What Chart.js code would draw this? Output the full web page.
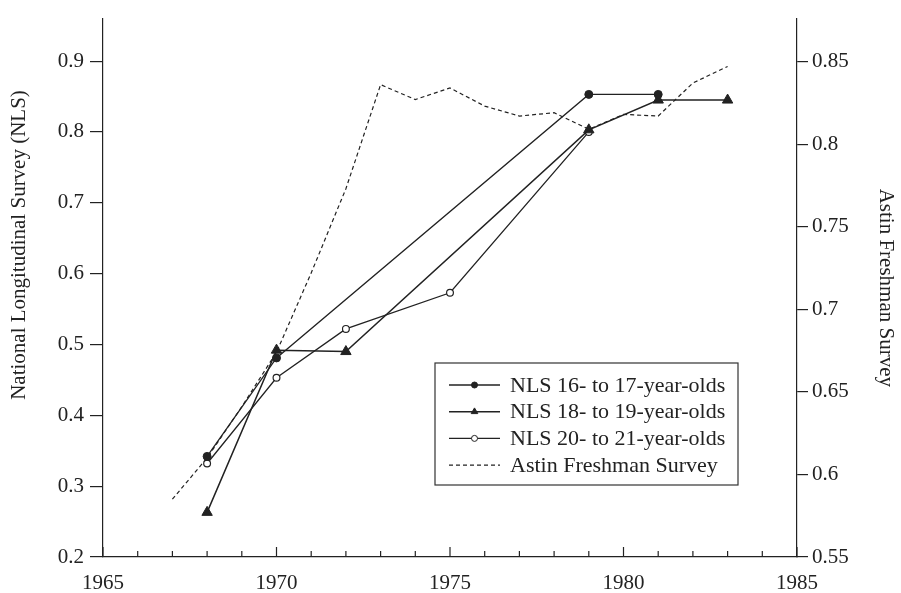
<!DOCTYPE html>
<html>
<head>
<meta charset="utf-8">
<script src="https://cdn.jsdelivr.net/npm/chart.js@4.4.1/dist/chart.umd.min.js"></script>
<style>
  html, body { margin: 0; padding: 0; background: #fff; }
  #wrap { width: 901px; height: 593px; }
</style>
</head>
<body>
<div id="wrap"><canvas id="chart" width="901" height="593"></canvas></div>
<script>
// NLS series (left axis)
const years16 = [1968, 1970, 1979, 1981]
const nls16 = [0.342, 0.481, 0.853, 0.853]

const years18 = [1968, 1970, 1972, 1979, 1981, 1983]
const nls18 = [0.263, 0.492, 0.490, 0.803, 0.845, 0.845]

const years20 = [1968, 1970, 1972, 1975, 1979]
const nls20 = [0.332, 0.453, 0.522, 0.573, 0.800]

// Astin Freshman Survey (right axis)
const astinYears = [1967, 1968, 1969, 1970, 1971, 1972, 1973, 1974, 1975, 1976, 1977, 1978, 1979, 1980, 1981, 1982, 1983]
const astin = [0.585, 0.610, 0.641, 0.674, 0.722, 0.773, 0.836, 0.827, 0.834, 0.823, 0.817, 0.819, 0.809, 0.818, 0.817, 0.837, 0.847]

const labels = ['NLS 16- to 17-year-olds', 'NLS 18- to 19-year-olds', 'NLS 20- to 21-year-olds', 'Astin Freshman Survey']
const leftTitle = 'National Longitudinal Survey (NLS)'
const rightTitle = 'Astin Freshman Survey'

const xTicks = [1965, 1970, 1975, 1980, 1985]
const leftTicks = [0.2, 0.3, 0.4, 0.5, 0.6, 0.7, 0.8, 0.9]
const rightTicks = [0.55, 0.6, 0.65, 0.7, 0.75, 0.8, 0.85]

const ink = '#222'
const serif = 'Liberation Serif, Times New Roman, serif'

const toPoints = (xs, ys) => xs.map((x, i) => ({ x, y: ys[i] }))

// every year gets a small tick, labelled ones every 5
const yearTicks = []
for (let y = xTicks[0]; y <= xTicks[xTicks.length - 1]; y++) yearTicks.push({ value: y })

const innerTicks = {
  id: 'innerTicks',
  afterDraw(chart) {
    const scale = chart.scales.x
    const ctx = chart.ctx
    ctx.save()
    ctx.strokeStyle = ink
    ctx.lineWidth = 1.2
    scale.ticks.forEach(t => {
      const px = scale.getPixelForValue(t.value)
      const len = xTicks.includes(t.value) ? 10 : 6
      ctx.beginPath()
      ctx.moveTo(px, scale.top)
      ctx.lineTo(px, scale.top - len)
      ctx.stroke()
    })
    ctx.restore()
  }
}

// left title sits a bit above the middle of the axis in the original
const leftTitlePlugin = {
  id: 'leftTitle',
  afterDraw(chart) {
    const ctx = chart.ctx
    ctx.save()
    ctx.translate(19, 245)
    ctx.rotate(-Math.PI / 2)
    ctx.font = '21px ' + serif
    ctx.fillStyle = ink
    ctx.textAlign = 'center'
    ctx.textBaseline = 'middle'
    ctx.fillText(leftTitle, 0, 0)
    ctx.restore()
  }
}

const drawMarker = (ctx, style, x, y, r, fill) => {
  ctx.beginPath()
  if (style === 'triangle') {
    ctx.moveTo(x, y - r)
    ctx.lineTo(x + r * 0.866, y + r / 2)
    ctx.lineTo(x - r * 0.866, y + r / 2)
    ctx.closePath()
  } else {
    ctx.arc(x, y, r, 0, Math.PI * 2)
  }
  ctx.fillStyle = fill
  ctx.fill()
  ctx.stroke()
}

const legendBox = {
  id: 'legendBox',
  afterDatasetsDraw(chart) {
    const ctx = chart.ctx
    const left = 435, top = 363, width = 303, height = 122
    ctx.save()
    ctx.fillStyle = '#fff'
    ctx.fillRect(left, top, width, height)
    ctx.strokeStyle = '#333'
    ctx.lineWidth = 1.2
    ctx.strokeRect(left, top, width, height)
    ctx.font = '22px ' + serif
    ctx.textBaseline = 'middle'
    chart.data.datasets.forEach((ds, i) => {
      const y = top + 22 + i * 26.7
      ctx.strokeStyle = ink
      ctx.lineWidth = ds.borderWidth
      ctx.setLineDash(ds.borderDash || [])
      ctx.beginPath()
      ctx.moveTo(left + 14, y)
      ctx.lineTo(left + 65, y)
      ctx.stroke()
      ctx.setLineDash([])
      if (ds.pointRadius > 0) {
        ctx.lineWidth = 1
        drawMarker(ctx, ds.pointStyle, left + 39.5, y, ds.pointStyle === 'triangle' ? 3.8 : 3, ds.pointBackgroundColor)
      }
      ctx.fillStyle = ink
      ctx.fillText(ds.label, left + 75, y + 1)
    })
    ctx.restore()
  }
}

const ctx = document.getElementById('chart')

const chart = new Chart(ctx, {
  type: 'line',
  data: {
    datasets: [{
      label: labels[0],
      data: toPoints(years16, nls16),
      yAxisID: 'y',
      borderColor: ink,
      borderWidth: 1.3,
      pointStyle: 'circle',
      pointRadius: 4,
      pointBackgroundColor: ink,
      pointBorderColor: ink,
      pointBorderWidth: 1
    }, {
      label: labels[1],
      data: toPoints(years18, nls18),
      yAxisID: 'y',
      borderColor: ink,
      borderWidth: 1.5,
      pointStyle: 'triangle',
      pointRadius: 6,
      pointBackgroundColor: ink,
      pointBorderColor: ink,
      pointBorderWidth: 1
    }, {
      label: labels[2],
      data: toPoints(years20, nls20),
      yAxisID: 'y',
      borderColor: ink,
      borderWidth: 1.3,
      pointStyle: 'circle',
      pointRadius: 3.4,
      pointBackgroundColor: '#fff',
      pointBorderColor: ink,
      pointBorderWidth: 1.2
    }, {
      label: labels[3],
      data: toPoints(astinYears, astin),
      yAxisID: 'y2',
      borderColor: ink,
      borderWidth: 1.2,
      borderDash: [4, 3],
      pointRadius: 0,
      pointBackgroundColor: ink
    }]
  },
  options: {
    responsive: false,
    animation: false,
    events: [],
    layout: { padding: { top: 7 } },
    plugins: {
      legend: { display: false },
      tooltip: { enabled: false }
    },
    scales: {
      x: {
        type: 'linear',
        min: xTicks[0],
        max: xTicks[xTicks.length - 1],
        afterBuildTicks: (scale) => { scale.ticks = yearTicks.map(t => ({ ...t })) },
        afterFit: (scale) => { scale.height = 36 },
        ticks: {
          autoSkip: false,
          maxRotation: 0,
          padding: 14,
          color: ink,
          font: { family: serif, size: 21 },
          callback: (v) => xTicks.includes(v) ? String(v) : ''
        },
        grid: { drawOnChartArea: false, drawTicks: false },
        border: { color: ink, width: 1.2 }
      },
      y: {
        position: 'left',
        min: 0.2,
        max: 0.96,
        afterBuildTicks: (scale) => { scale.ticks = leftTicks.map(v => ({ value: v })) },
        afterFit: (scale) => { scale.width = 103 },
        ticks: {
          padding: 6,
          color: ink,
          font: { family: serif, size: 21 },
          callback: (v) => String(v)
        },
        grid: { drawOnChartArea: false, tickLength: 13, color: ink, lineWidth: 1.2 },
        border: { color: ink, width: 1.2 }
      },
      y2: {
        position: 'right',
        min: 0.55,
        max: 0.876,
        afterBuildTicks: (scale) => { scale.ticks = rightTicks.map(v => ({ value: v })) },
        afterFit: (scale) => { scale.width = 104 },
        ticks: {
          padding: 4,
          color: ink,
          font: { family: serif, size: 21 },
          callback: (v) => String(v)
        },
        grid: { drawOnChartArea: false, tickLength: 11, color: ink, lineWidth: 1.2 },
        border: { color: ink, width: 1.2 },
        title: {
          display: true,
          text: rightTitle,
          color: ink,
          font: { family: serif, size: 21 },
          padding: { top: 3, bottom: 0 }
        }
      }
    }
  },
  plugins: [innerTicks, legendBox, leftTitlePlugin]
});
</script>
</body>
</html>
